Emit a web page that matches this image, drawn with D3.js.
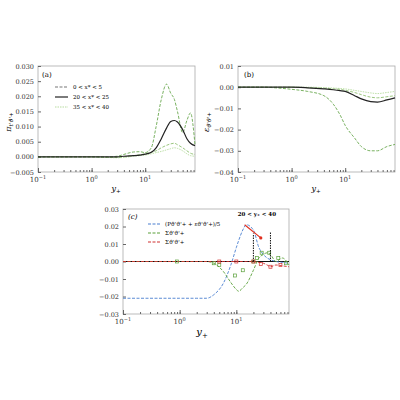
<!DOCTYPE html><html><head><script src="https://cdn.jsdelivr.net/npm/d3@7"></script>
<style>body{margin:0;background:#fff}text{font-family:"DejaVu Serif",serif}</style></head><body>
<svg id="s" width="400" height="400"></svg>
<script>
const ypA=[0.1,0.3,1,2,3,4,5,6,8,10,13,16,20,25,30,35,40,50,60,70,85];
const a1=[0,0,0,0,0.0002,0.0008,0.0013,0.0016,0.0017,0.0014,0.003,0.010,0.019,0.024,0.021,0.019,0.015,0.008,0.012,0.0145,0.004];
const a2=[0,0,0,0,0,0.0002,0.0003,0.0004,0.0006,0.0009,0.0015,0.003,0.006,0.0095,0.0117,0.012,0.0115,0.009,0.006,0.0045,0.0037];
const a3=[0,0,0,-0.0002,-0.0002,0,0.0002,0.0004,0.0007,0.001,0.0015,0.002,0.003,0.0038,0.0043,0.0045,0.004,0.003,0.002,0.0012,0.0008];
const a4=[0,0,0,-0.0002,-0.0003,-0.0002,0,0.0002,0.0004,0.0006,0.001,0.0014,0.0018,0.0023,0.0027,0.003,0.0028,0.002,0.001,0.0004,0.0002];
const ypB=[0.1,0.3,0.5,1,2,4,6,8,10,15,20,30,40,60,85];
const b1=[0,0,-0.0003,-0.001,-0.002,-0.004,-0.008,-0.013,-0.018,-0.024,-0.028,-0.030,-0.030,-0.028,-0.027];
const b2=[0,0,0,0,-0.0003,-0.0008,-0.0012,-0.0016,-0.002,-0.004,-0.0055,-0.0068,-0.007,-0.006,-0.005];
const b3=[0,0,0,0,-0.0002,-0.0005,-0.0008,-0.001,-0.0015,-0.0025,-0.0035,-0.0047,-0.005,-0.0045,-0.004];
const b4=[0,0,0,0,0,-0.0002,-0.0004,-0.0006,-0.0008,-0.0015,-0.002,-0.0027,-0.003,-0.0025,-0.002];
const ypC=[0.1,1,2,3,4,6,8,10,11,13,15,20,25,30,35,40,50,65,85];
const cBlue=[-0.021,-0.021,-0.021,-0.021,-0.019,-0.012,-0.002,0.008,0.012,0.018,0.021,0.018,0.008,0.004,0.002,0.001,0,-0.0005,-0.001];
const cGreen=[0,0,0,0,-0.001,-0.006,-0.012,-0.016,-0.017,-0.015,-0.013,-0.005,0.002,0.004,0.005,0.004,0,0.002,-0.002];
const cRed=[0,0,0,0,0,0,0,0,0,0,0,0,-0.0005,-0.001,-0.002,-0.003,-0.002,-0.0025,-0.003];
const gMarkX=[0.9,4,5,9.5,13,20,23,28,38,55,75], gMarkY=[0,-0.001,-0.002,-0.008,-0.005,0,0.002,0.005,0.005,0.002,-0.001];
const rMarkX=[5,10,20,27,40,60], rMarkY=[0,0,0,-0.0015,-0.003,-0.002];
const svg=d3.select("#s");
function sub(sel,base,s,size){sel.append("tspan").text(base);sel.append("tspan").attr("font-size",size*0.7).attr("dy",size*0.3).text(s);}
function panel(x0,x1,y0,y1,ydom,yticks,fmt){
 const x=d3.scaleLog().domain([0.1,85]).range([x0,x1]);
 const y=d3.scaleLinear().domain(ydom).range([y1,y0]);
 const g=svg.append("g");
 g.append("rect").attr("x",x0).attr("y",y0).attr("width",x1-x0).attr("height",y1-y0).attr("fill","none").attr("stroke","#aaa").attr("stroke-width",0.8);
 const ax=g.append("g").attr("transform",`translate(0,${y1})`).call(d3.axisBottom(x).tickValues([0.1,0.2,0.3,0.4,0.5,0.6,0.7,0.8,0.9,1,2,3,4,5,6,7,8,9,10,20,30,40,50,60,70,80]).tickSize(-2).tickFormat(()=>""));
 const ax2=g.append("g").attr("transform",`translate(0,${y1})`).call(d3.axisBottom(x).tickValues([0.1,1,10]).tickSize(-4).tickFormat(""));
 [[0.1,"−1"],[1,"0"],[10,"1"]].forEach(([v,e])=>{const t=g.append("text").attr("x",x(v)).attr("y",y1+10).attr("text-anchor","middle").attr("font-size",7).attr("fill","#333");t.append("tspan").text("10");t.append("tspan").attr("dy",-3).attr("font-size",5).text(e);});
 const ay=g.append("g").attr("transform",`translate(${x0},0)`).call(d3.axisLeft(y).tickValues(yticks).tickSize(-3).tickFormat(d=>fmt(d).replace("-","−")));
 [ax,ax2,ay].forEach(a=>{a.select(".domain").remove();a.selectAll("line").attr("stroke","#666");a.selectAll("text").attr("font-size",6.5).attr("fill","#333").attr("font-family","DejaVu Serif");});
 ay.selectAll("text").attr("x",-4);
 return {x,y,g};
}
function line(p,xs,ys,col,dash,w){p.g.append("path").datum(xs.map((v,i)=>[v,ys[i]])).attr("d",d3.line().x(d=>p.x(d[0])).y(d=>p.y(d[1])).curve(d3.curveMonotoneX)).attr("fill","none").attr("stroke",col).attr("stroke-width",w||0.9).attr("stroke-dasharray",dash||null);}
// (a)
const pa=panel(38,195,66,172,[-0.005,0.03],[-0.005,0,0.005,0.01,0.015,0.02,0.025,0.03],d3.format(".3f"));
line(pa,ypA,a4,"#b8dca0","1.5,1");line(pa,ypA,a3,"#8fc070","3,1.5");line(pa,ypA,a1,"#6aa84f","3,1.5");line(pa,ypA,a2,"#222",null,1.2);
pa.g.append("text").attr("x",42).attr("y",77).attr("font-size",7).text("(a)");
[["0 < x* < 5","#777","3,1.5",12],["20 < x* < 25","#222",null,22],["35 < x* < 40","#b8dca0","1.5,1",32]].forEach(([t,c,d,dy])=>{pa.g.append("line").attr("x1",55).attr("x2",68).attr("y1",77+dy-2).attr("y2",77+dy-2).attr("stroke",c).attr("stroke-width",1.2).attr("stroke-dasharray",d);pa.g.append("text").attr("x",73).attr("y",77+dy).attr("font-size",5.5).text(t);});
sub(svg.append("text").attr("transform","translate(11,122) rotate(-90)").attr("text-anchor","middle").attr("font-size",8).attr("font-style","italic"),"π","t'ϑ'+",8);
sub(svg.append("text").attr("x",116).attr("y",191).attr("text-anchor","middle").attr("font-size",8).attr("font-style","italic"),"y","+",8);
// (b)
const pb=panel(238,395,66,172,[-0.04,0.01],[-0.04,-0.03,-0.02,-0.01,0,0.01],d3.format(".2f"));
line(pb,ypB,b4,"#b8dca0","1.5,1");line(pb,ypB,b3,"#8fc070","3,1.5");line(pb,ypB,b1,"#6aa84f","3,1.5");line(pb,ypB,b2,"#222",null,1.2);
pb.g.append("text").attr("x",244).attr("y",77).attr("font-size",7).text("(b)");
sub(svg.append("text").attr("transform","translate(209,122) rotate(-90)").attr("text-anchor","middle").attr("font-size",8).attr("font-style","italic"),"ε","ϑ'ϑ'+",8);
sub(svg.append("text").attr("x",316).attr("y",191).attr("text-anchor","middle").attr("font-size",8).attr("font-style","italic"),"y","+",8);
// (c)
const pc=panel(123,289,209,314,[-0.03,0.03],[-0.03,-0.02,-0.01,0,0.01,0.02,0.03],d3.format(".2f"));
pc.g.append("line").attr("x1",123).attr("x2",289).attr("y1",pc.y(0)).attr("y2",pc.y(0)).attr("stroke","#111").attr("stroke-width",1);
line(pc,ypC,cBlue,"#4a7fd0","3,1.5");line(pc,ypC,cGreen,"#5aa03a","3,1.5");line(pc,ypC,cRed,"#d03030","3,1.5");
gMarkX.forEach((v,i)=>pc.g.append("rect").attr("x",pc.x(v)-1.5).attr("y",pc.y(gMarkY[i])-1.5).attr("width",3).attr("height",3).attr("fill","none").attr("stroke","#5aa03a").attr("stroke-width",0.7));
rMarkX.forEach((v,i)=>pc.g.append("rect").attr("x",pc.x(v)-1.5).attr("y",pc.y(rMarkY[i])-1.5).attr("width",3).attr("height",3).attr("fill","none").attr("stroke","#d03030").attr("stroke-width",0.7));
[[20,0.016],[40,0.017]].forEach(([v,t])=>pc.g.append("line").attr("x1",pc.x(v)).attr("x2",pc.x(v)).attr("y1",pc.y(0)).attr("y2",pc.y(t)).attr("stroke","#111").attr("stroke-dasharray","1.5,1").attr("stroke-width",1));
pc.g.append("line").attr("x1",pc.x(14)).attr("x2",pc.x(27)).attr("y1",pc.y(0.021)).attr("y2",pc.y(0.0135)).attr("stroke","#e03020").attr("stroke-width",1.2);
pc.g.append("circle").attr("cx",pc.x(27)).attr("cy",pc.y(0.0135)).attr("r",1.6).attr("fill","#e03020");
pc.g.append("text").attr("x",pc.x(23)).attr("y",pc.y(0.026)).attr("text-anchor","middle").attr("font-size",5.5).attr("font-weight","bold").text("20 < y₊ < 40");
pc.g.append("text").attr("x",128).attr("y",219).attr("font-size",7).attr("font-style","italic").text("(c)");
[["(Pϑ'ϑ'+ + εϑ'ϑ'+)/5","#4a7fd0",0],["Σϑ'ϑ'+","#5aa03a",9],["Σϑ'ϑ'+","#d03030",18]].forEach(([t,c,dy])=>{pc.g.append("line").attr("x1",148).attr("x2",160).attr("y1",224+dy).attr("y2",224+dy).attr("stroke",c).attr("stroke-width",1.2).attr("stroke-dasharray","3,1.5");pc.g.append("text").attr("x",165).attr("y",226+dy).attr("font-size",5.5).text(t);});
sub(svg.append("text").attr("x",202).attr("y",335).attr("text-anchor","middle").attr("font-size",10).attr("font-style","italic"),"y","+",10);
</script></body></html>
